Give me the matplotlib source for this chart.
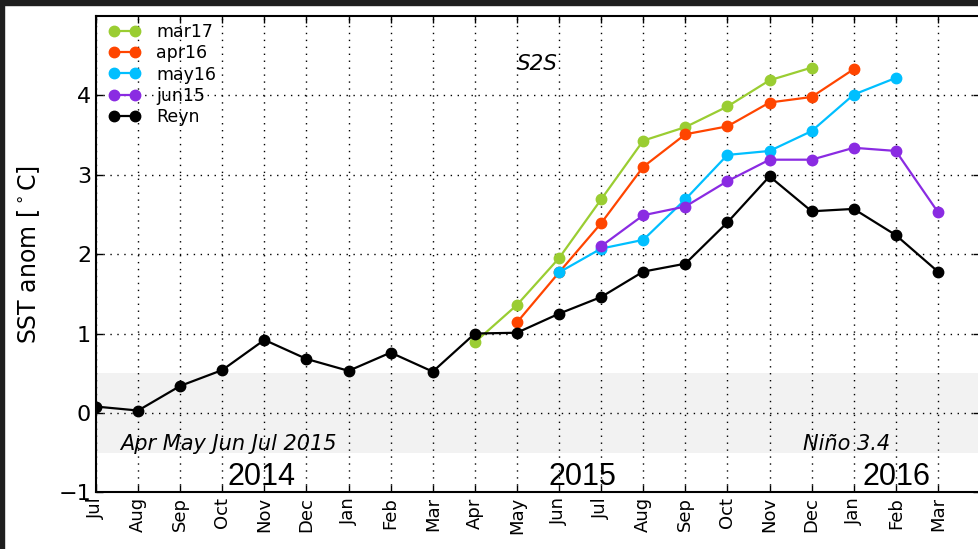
import matplotlib
matplotlib.use("Agg")
import matplotlib.pyplot as plt
from matplotlib.patches import Rectangle

months = ["Jul", "Aug", "Sep", "Oct", "Nov", "Dec", "Jan", "Feb", "Mar", "Apr",
          "May", "Jun", "Jul", "Aug", "Sep", "Oct", "Nov", "Dec", "Jan", "Feb", "Mar"]

# observed Nino3.4 anomaly, Jul 2014 .. Mar 2016
reyn = [0.08, 0.03, 0.34, 0.54, 0.92, 0.68, 0.53, 0.76, 0.52, 1.00,
        1.01, 1.25, 1.46, 1.78, 1.88, 2.40, 2.98, 2.54, 2.57, 2.24, 1.78]

# S2S forecasts: (first month index, values)
mar17_start = 9
mar17 = [0.89, 1.36, 1.95, 2.69, 3.43, 3.60, 3.86, 4.19, 4.35]
apr16_start = 10
apr16 = [1.14, 1.77, 2.39, 3.10, 3.51, 3.61, 3.91, 3.98, 4.33]
may16_start = 11
may16 = [1.77, 2.07, 2.18, 2.69, 3.25, 3.30, 3.55, 4.01, 4.22]
jun15_start = 12
jun15 = [2.10, 2.49, 2.60, 2.92, 3.19, 3.19, 3.34, 3.30, 2.53]

years = ["2014", "2015", "2016"]
year_pos = [3.92, 11.55, 19.02]

W, H = 979, 549
fig = plt.figure(figsize=(W / 100, H / 100), dpi=100)
ax = fig.add_axes([96 / W, 1 - 492.3 / H, 884 / W, 476.3 / H])

# grey band for neutral conditions
ax.axhspan(-0.5, 0.5, color="#f2f2f2", zorder=0, lw=0)

series = [
    ("mar17", mar17_start, mar17, "yellowgreen"),
    ("apr16", apr16_start, apr16, "orangered"),
    ("may16", may16_start, may16, "deepskyblue"),
    ("jun15", jun15_start, jun15, "blueviolet"),
]
for name, start, vals, col in series:
    xs = list(range(start, start + len(vals)))
    ax.plot(xs, vals, "-o", color=col, mec=col, lw=1.6, ms=7.5, label=name, zorder=3)

ax.plot(range(len(reyn)), reyn, "-o", color="black", lw=1.6, ms=7.5, label="Reyn", zorder=4)

ax.set_xlim(0, 21)
ax.set_ylim(-1, 5)
ax.set_xticks(range(len(months)))
ax.set_xticklabels(months, rotation=90, fontsize=13)
ax.set_yticks(range(-1, 5))
ax.tick_params(axis="y", labelsize=16)
ax.tick_params(direction="in", top=True, right=True, length=5, width=1)
ax.grid(True, linestyle=(0, (1, 4)), color="black", lw=1)
for s in ax.spines.values():
    s.set_linewidth(1.5)

ax.set_ylabel(r"SST anom [$^\circ$C]", fontsize=17, labelpad=12)

for yr, xp in zip(years, year_pos):
    ax.text(xp, -0.81, yr, fontsize=22, ha="center", va="center",
            family="Liberation Sans")

ax.text(0.57, -0.39, "Apr May Jun Jul 2015", fontsize=15, style="italic", va="center")
ax.text(16.8, -0.39, "Niño 3.4", fontsize=15, style="italic", va="center")
ax.text(10.0, 4.4, "S2S", fontsize=15.5, style="italic", va="center")

ax.legend(loc="upper left", frameon=False, numpoints=2, fontsize=12.5,
          handlelength=1.8, handletextpad=0.9, labelspacing=0.2,
          borderaxespad=0.2, bbox_to_anchor=(0.003, 1.008))

# dark window frame of the screenshot
fig.patches.append(Rectangle((0, 1 - 5 / H), 1, 5 / H, transform=fig.transFigure,
                             color="#1e1e1e", zorder=10))
fig.patches.append(Rectangle((0, 0), 4 / W, 1, transform=fig.transFigure,
                             color="#1e1e1e", zorder=10))

fig.savefig("out.png", dpi=100)
